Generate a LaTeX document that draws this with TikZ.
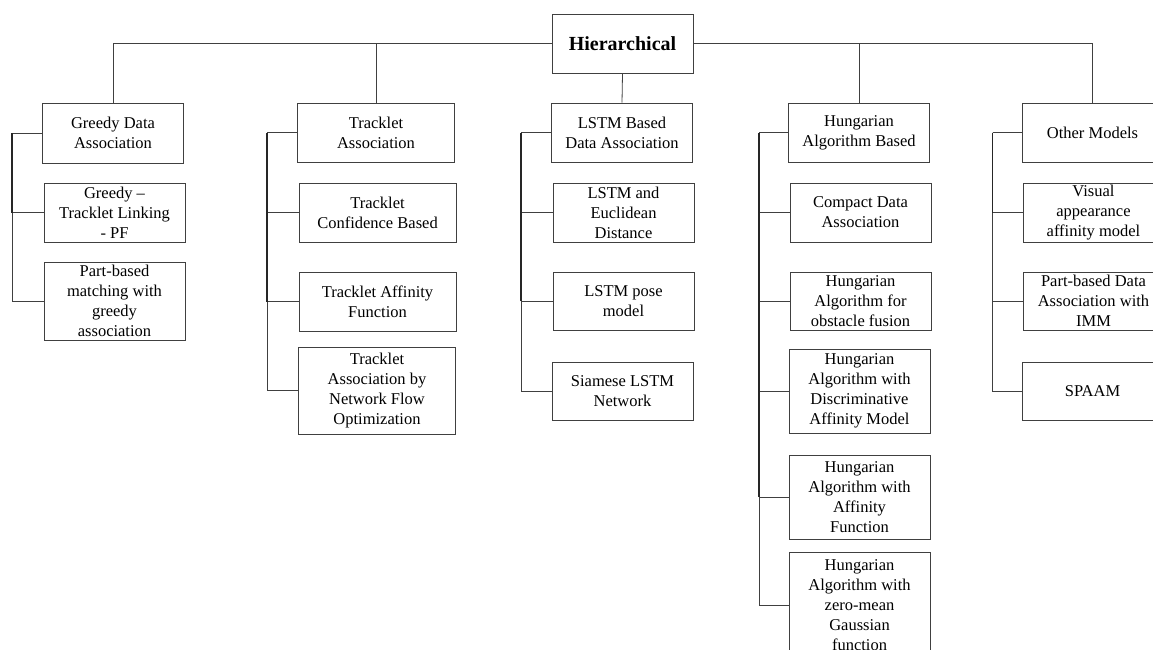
\documentclass[tikz,border=0pt]{standalone}
\usepackage{fontspec}
\setmainfont{Liberation Serif}
\begin{document}
\begin{tikzpicture}[x=1pt,y=-1pt,
  box/.style={draw=black!75, line width=0.8pt, align=center, inner sep=0pt,
    minimum width=141pt, minimum height=59pt, font=\fontsize{16.5}{20}\selectfont},
  link/.style={draw=black!75, line width=0.8pt},
  spine/.style={draw=black!85, line width=1.6pt}]
\useasboundingbox (0,0) rectangle (1153,649);
\clip (0,0) rectangle (1153,649);

% root
\node[box, font=\fontsize{20}{24}\selectfont\bfseries] (root) at (622.5,43.5) {Hierarchical};

% greedy column
\node[box, minimum height=60pt] (g1) at (113,133) {Greedy Data\\Association};
\node[box] (g2) at (114.5,212.5) {Greedy --\\Tracklet Linking\\- PF};
\node[box, minimum height=78pt] (g3) at (114.5,301) {Part-based\\matching with\\greedy\\association};

% tracklet column
\node[box, minimum width=157pt] (t1) at (376,132.5) {Tracklet\\Association};
\node[box, minimum width=157pt] (t2) at (377.5,212.5) {Tracklet\\Confidence Based};
\node[box, minimum width=157pt] (t3) at (377.5,301.5) {Tracklet Affinity\\Function};
\node[box, minimum width=157pt, minimum height=87pt] (t4) at (377,390.5) {Tracklet\\Association by\\Network Flow\\Optimization};

% LSTM column
\node[box] (l1) at (622,132.5) {LSTM Based\\Data Association};
\node[box] (l2) at (623.5,212.5) {LSTM and\\Euclidean\\Distance};
\node[box, minimum height=58pt] (l3) at (623.5,301) {LSTM pose\\model};
\node[box, minimum height=58pt] (l4) at (622.5,391) {Siamese LSTM\\Network};

% Hungarian column
\node[box] (h1) at (859,132.5) {Hungarian\\Algorithm Based};
\node[box] (h2) at (860.5,212.5) {Compact Data\\Association};
\node[box, minimum height=58pt] (h3) at (860.5,301) {Hungarian\\Algorithm for\\obstacle fusion};
\node[box, minimum height=84pt] (h4) at (859.5,391) {Hungarian\\Algorithm with\\Discriminative\\Affinity Model};
\node[box, minimum height=84pt] (h5) at (859.5,497) {Hungarian\\Algorithm with\\Affinity\\Function};
\node[box, minimum height=106pt] (h6) at (859.5,605) {Hungarian\\Algorithm with\\zero-mean\\Gaussian\\function};

% other models column
\node[box] (o1) at (1092.5,132.5) {Other Models};
\node[box] (o2) at (1093.5,212.5) {Visual\\appearance\\affinity model};
\node[box, minimum height=58pt] (o3) at (1093.5,301) {Part-based Data\\Association with\\IMM};
\node[box, minimum height=58pt] (o4) at (1092.5,391) {SPAAM};

% top level connectors
\draw[link] (root.west) -| (g1.north);
\draw[link] (root.east) -| (o1.north);
\draw[link] (t1.north) -- (t1.north |- root.west);
\draw[link] (h1.north) -- (h1.north |- root.east);
\draw[link] (root.south) -- (l1.north);

% greedy branch
\draw[link] (g1.west) -- ++(-30,0) coordinate (gs);
\draw[link] (gs) |- (g2.west);
\draw[link] (gs) |- (g3.west);
\draw[spine] (gs) -- (gs |- g2.west);

% tracklet branch
\draw[link] (t1.west) -- ++(-30,0) coordinate (ts);
\draw[link] (ts) |- (t2.west);
\draw[link] (ts) |- (t3.west);
\draw[link] (ts) |- (t4.west);
\draw[spine] (ts) -- (ts |- t3.west);

% LSTM branch
\draw[link] (l1.west) -- ++(-30,0) coordinate (ls);
\draw[link] (ls) |- (l2.west);
\draw[link] (ls) |- (l3.west);
\draw[link] (ls) |- (l4.west);
\draw[spine] (ls) -- (ls |- l3.west);

% Hungarian branch
\draw[link] (h1.west) -- ++(-29,0) coordinate (hs);
\draw[link] (hs) |- (h2.west);
\draw[link] (hs) |- (h3.west);
\draw[link] (hs) |- (h4.west);
\draw[link] (hs) |- (h5.west);
\draw[link] (hs) |- (h6.west);
\draw[spine] (hs) -- (hs |- h5.west);

% other models branch
\draw[link] (o1.west) -- ++(-29,0) coordinate (os);
\draw[link] (os) |- (o2.west);
\draw[link] (os) |- (o3.west);
\draw[link] (os) |- (o4.west);
\draw[spine] (os) -- (os |- o2.west);
\end{tikzpicture}
\end{document}
